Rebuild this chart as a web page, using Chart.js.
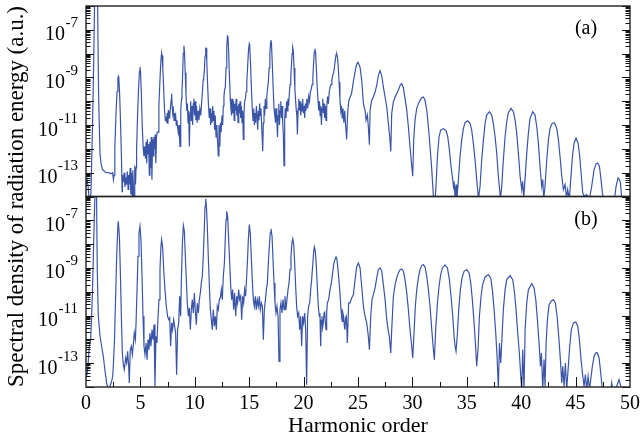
<!DOCTYPE html>
<html>
<head>
<meta charset="utf-8">
<script src="https://cdn.jsdelivr.net/npm/chart.js@4.4.1/dist/chart.umd.min.js"></script>
<style>
  html, body { margin: 0; padding: 0; background: #fff; }
</style>
</head>
<body>
<canvas id="chart" width="642" height="446"></canvas>
<script>
// spectra: [harmonic order, log10(spectral density)]
const spectrumA = [
  [0.00,-13.5],[0.10,-13.3],[0.20,-13.6],[0.30,-14.2],[0.45,-13.9],[0.60,-11.0],[0.72,-8.0],[0.80,-5.5],[0.90,-4.8],[1.00,-5.2],[1.07,-6.0],[1.15,-9.5],[1.22,-11.0],[1.29,-12.2],[1.38,-12.6],[1.50,-12.85],[1.70,-12.95],[1.90,-13.0],[2.10,-13.0],[2.30,-13.05],[2.45,-13.0],[2.52,-13.3],
  [2.58,-13.1],[2.65,-12.0],[2.75,-10.6],[2.85,-9.6],[2.93,-9.05],[2.97,-8.96],[3.02,-9.05],[3.10,-9.8],[3.18,-11.0],[3.26,-12.4],[3.32,-13.8],
  [3.35,-13.1],[3.42,-13.4],[3.50,-13.0],[3.58,-13.6],[3.65,-13.2],[3.72,-13.5],[3.80,-12.95],[3.87,-13.7],[3.93,-13.1],[4.00,-13.3],[4.06,-12.8],[4.12,-13.9],[4.18,-13.0],[4.25,-14.3],[4.30,-12.9],[4.36,-13.6],[4.42,-14.4],[4.48,-12.7],[4.55,-13.5],[4.60,-12.8],
  [4.65,-12.0],[4.74,-10.6],[4.83,-9.5],[4.91,-8.75],[4.96,-8.57],[5.01,-8.75],[5.08,-9.6],[5.16,-10.9],[5.25,-11.9],[5.32,-12.3],
  [5.40,-11.9],[5.46,-12.4],[5.52,-11.7],[5.58,-12.6],[5.64,-11.6],[5.70,-12.2],[5.76,-11.8],[5.82,-13.1],[5.88,-11.7],[5.93,-12.8],[6.00,-11.5],[6.06,-13.3],[6.12,-11.6],[6.18,-12.3],[6.24,-11.5],[6.30,-12.0],[6.36,-11.4],[6.42,-12.6],[6.48,-11.5],[6.55,-11.3],
  [6.62,-11.3],[6.70,-10.2],[6.78,-9.3],[6.86,-8.5],[6.92,-8.08],[6.95,-7.99],[6.99,-8.08],[7.06,-8.6],[7.14,-9.5],[7.22,-10.4],[7.30,-10.8],
  [7.35,-10.65],[7.41,-10.9],[7.47,-10.5],[7.53,-10.95],[7.57,-10.37],[7.63,-10.7],[7.68,-10.4],[7.72,-10.6],[7.78,-10.2],[7.84,-9.9],[7.87,-9.68],[7.92,-10.2],[7.97,-10.5],[8.03,-10.37],[8.09,-10.8],[8.14,-10.5],[8.18,-10.79],[8.24,-10.6],[8.30,-11.0],[8.36,-10.8],[8.42,-11.1],[8.48,-11.3],[8.55,-11.0],[8.60,-11.6],[8.64,-11.9],[8.69,-10.9],[8.73,-10.37],[8.78,-9.9],
  [8.82,-9.6],[8.88,-8.9],[8.94,-8.0],[9.00,-7.67],[9.05,-7.9],[9.12,-8.8],[9.19,-9.7],[9.26,-10.4],
  [9.32,-10.1],[9.38,-10.9],[9.43,-10.4],[9.50,-11.9],[9.56,-10.5],[9.62,-10.0],[9.68,-10.8],[9.74,-10.2],[9.80,-11.0],[9.86,-10.1],[9.92,-9.9],[9.98,-10.6],[10.04,-10.0],[10.10,-10.8],[10.16,-10.2],[10.22,-10.9],[10.30,-10.4],[10.38,-10.8],[10.46,-10.3],[10.55,-10.6],[10.62,-10.1],[10.70,-9.6],[10.77,-9.1],
  [10.82,-9.0],[10.88,-8.7],[10.94,-8.1],[11.00,-7.78],[11.04,-7.77],[11.10,-8.3],[11.17,-9.2],[11.25,-10.1],[11.33,-10.7],
  [11.40,-10.3],[11.46,-11.0],[11.52,-10.5],[11.58,-10.9],[11.64,-10.2],[11.70,-10.8],[11.76,-10.4],[11.82,-11.2],[11.88,-10.6],[11.95,-11.5],[12.02,-11.0],[12.08,-11.6],[12.16,-12.3],[12.22,-11.0],[12.30,-11.9],[12.36,-10.9],[12.42,-11.3],[12.50,-10.6],[12.56,-11.0],[12.62,-10.2],[12.68,-9.8],[12.74,-9.5],
  [12.80,-9.45],[12.87,-8.6],[12.94,-7.7],[13.00,-7.27],[13.05,-7.3],[13.11,-7.9],[13.18,-8.9],[13.26,-9.9],[13.32,-10.3],
  [13.38,-10.6],[13.44,-9.9],[13.50,-10.5],[13.56,-10.0],[13.62,-10.8],[13.68,-10.1],[13.74,-10.4],[13.80,-9.9],[13.86,-10.6],[13.92,-10.2],[13.98,-10.9],[14.04,-10.1],[14.10,-10.5],[14.16,-10.0],[14.22,-10.7],[14.28,-10.2],[14.34,-10.9],[14.40,-10.4],[14.46,-11.6],[14.52,-10.5],[14.58,-10.0],[14.65,-9.9],[14.72,-9.6],
  [14.78,-9.2],[14.86,-8.5],[14.93,-7.9],[15.00,-7.6],[15.05,-7.7],[15.12,-8.4],[15.20,-9.4],[15.28,-10.3],[15.35,-10.8],
  [15.42,-10.3],[15.48,-11.0],[15.54,-10.5],[15.60,-10.9],[15.66,-10.2],[15.72,-10.6],[15.78,-11.2],[15.84,-10.4],[15.90,-10.8],[15.96,-10.1],[16.02,-10.6],[16.08,-10.3],[16.14,-11.0],[16.20,-11.6],[16.24,-12.1],[16.30,-10.9],[16.36,-10.2],[16.42,-10.6],[16.48,-9.9],[16.55,-10.3],[16.62,-9.8],[16.70,-9.4],
  [16.76,-9.2],[16.83,-8.6],[16.90,-8.0],[16.96,-7.55],[17.00,-7.43],[17.05,-7.6],[17.12,-8.4],[17.20,-9.4],[17.28,-10.3],[17.35,-10.6],
  [17.42,-10.9],[17.48,-10.3],[17.54,-10.8],[17.60,-11.5],[17.66,-10.6],[17.72,-10.1],[17.78,-11.0],[17.84,-10.4],[17.90,-10.0],[17.96,-10.7],[18.02,-10.2],[18.08,-10.9],[18.14,-11.4],[18.20,-12.7],[18.26,-10.8],[18.32,-10.3],[18.38,-10.7],[18.44,-10.0],[18.50,-10.4],[18.56,-9.9],[18.62,-10.2],[18.70,-9.6],[18.76,-9.3],
  [18.82,-9.0],[18.88,-8.5],[18.94,-8.0],[19.00,-7.74],[19.05,-7.85],[19.12,-8.6],[19.20,-9.5],[19.27,-10.0],[19.33,-10.4],
  [19.38,-10.6],[19.43,-11.4],[19.50,-10.3],[19.56,-9.9],[19.62,-10.4],[19.68,-10.0],[19.74,-10.6],[19.80,-10.1],[19.86,-10.4],[19.92,-9.9],[19.98,-10.5],[20.04,-10.2],[20.10,-10.7],[20.16,-10.1],[20.22,-10.4],[20.30,-9.9],[20.38,-10.3],[20.46,-9.8],[20.54,-10.0],[20.62,-9.6],[20.70,-9.5],
  [20.78,-9.3],[20.85,-9.0],[20.92,-8.4],[20.98,-7.95],[21.04,-7.8],[21.10,-7.95],[21.17,-8.6],[21.25,-9.4],[21.33,-10.0],[21.40,-10.4],
  [21.46,-10.0],[21.52,-10.6],[21.58,-10.2],[21.64,-11.0],[21.70,-10.3],[21.76,-9.9],[21.82,-10.5],[21.88,-10.1],[21.94,-10.7],[22.00,-10.2],[22.06,-10.8],[22.12,-10.3],[22.20,-9.8],[22.28,-10.1],[22.36,-9.6],[22.44,-9.4],[22.52,-9.3],[22.60,-9.1],[22.68,-8.9],
  [22.76,-8.8],[22.84,-8.55],[22.92,-8.25],[22.98,-8.05],[23.04,-8.01],[23.10,-8.1],[23.18,-8.5],[23.26,-9.2],[23.34,-9.9],[23.42,-10.4],
  [23.48,-10.2],[23.55,-10.7],[23.62,-10.3],[23.70,-10.9],[23.78,-10.4],[23.86,-11.0],[23.96,-11.6],[24.04,-10.6],[24.12,-10.1],[24.20,-9.9],[24.30,-9.8],[24.40,-9.7],[24.50,-9.4],[24.60,-9.1],[24.70,-8.85],[24.80,-8.6],[24.90,-8.43],[25.00,-8.36],
  [25.19,-8.57],[25.34,-9.12],[25.50,-10.1],[25.56,-10.23],[25.65,-10.37],[25.74,-10.79],[25.86,-10.58],[25.95,-11.07],[26.05,-11.83],[26.11,-10.37],[26.26,-9.96],[26.41,-9.82],[26.57,-9.61],[26.72,-9.33],[26.87,-8.92],[27.03,-8.71],
  [27.18,-8.92],[27.33,-9.4],[27.49,-9.82],[27.64,-10.23],[27.79,-10.93],[27.92,-11.49],[28.01,-12.11],[28.10,-10.51],[28.25,-10.03],[28.41,-9.82],[28.56,-9.68],[28.71,-9.54],[28.87,-9.33],[29.02,-9.26],
  [29.17,-9.43],[29.30,-9.82],[29.48,-10.37],[29.63,-11.07],[29.78,-11.9],[29.94,-12.74],[30.03,-13.15],[30.12,-11.62],[30.24,-10.79],[30.40,-10.3],[30.55,-10.1],[30.70,-9.96],[30.86,-9.85],[31.01,-9.82],
  [31.16,-9.96],[31.32,-10.37],[31.47,-11.07],[31.62,-11.9],[31.78,-12.87],[31.93,-14.0],[32.02,-14.5],
  [32.17,-13.57],[32.30,-12.32],[32.45,-11.49],[32.60,-11.21],[32.85,-11.15],[33.09,-11.23],[33.25,-11.49],[33.40,-12.04],[33.55,-12.74],[33.71,-13.29],[33.77,-13.57],[33.83,-13.36],[33.92,-14.0],[34.01,-13.5],[34.07,-14.2],
  [34.23,-13.29],[34.38,-12.32],[34.53,-11.62],[34.69,-11.14],[34.84,-10.9],[35.08,-10.82],[35.30,-10.93],[35.45,-11.21],[35.60,-11.76],[35.76,-12.46],[35.91,-13.29],[36.07,-14.1],
  [36.22,-13.57],[36.37,-12.46],[36.53,-11.62],[36.68,-10.93],[36.83,-10.58],[37.08,-10.44],[37.29,-10.58],[37.44,-10.93],[37.60,-11.49],[37.75,-12.18],[37.90,-13.15],[37.99,-13.57],[38.09,-14.1],[38.21,-13.57],
  [38.36,-12.46],[38.52,-11.49],[38.67,-10.86],[38.82,-10.48],[39.07,-10.3],[39.28,-10.44],[39.44,-10.79],[39.59,-11.35],[39.74,-12.18],[39.90,-13.15],[40.05,-13.71],[40.14,-13.36],[40.23,-14.1],
  [40.35,-13.29],[40.51,-12.18],[40.66,-11.35],[40.81,-10.72],[41.06,-10.44],[41.27,-10.58],[41.43,-11.07],[41.58,-11.76],[41.73,-12.74],[41.89,-13.57],[41.98,-13.29],[42.07,-14.1],
  [42.19,-13.57],[42.35,-12.46],[42.50,-11.62],[42.65,-11.14],[42.84,-10.93],[43.05,-10.9],[43.27,-11.14],[43.42,-11.62],[43.57,-12.32],[43.73,-13.15],[43.88,-13.71],[44.03,-13.5],[44.18,-14.1],[44.27,-13.71],[44.43,-14.1],
  [44.55,-13.29],[44.71,-12.32],[44.86,-11.76],[45.04,-11.55],[45.23,-11.76],[45.38,-12.32],[45.53,-13.15],[45.66,-13.85],[45.78,-13.99],[46.02,-13.92],[46.27,-14.1],
  [46.48,-13.57],[46.70,-12.87],[46.88,-12.62],[47.04,-12.6],[47.19,-12.74],[47.34,-13.29],[47.46,-13.85],[47.55,-14.1],[47.80,-14.6],[48.30,-14.6],
  [48.60,-14.0],[48.72,-13.57],[48.90,-13.22],[49.03,-13.29],[49.12,-13.43],[49.24,-14.1],[49.40,-14.5],[50.00,-14.6]
];

const spectrumB = [
  [0.00,-13.62],[0.10,-13.45],[0.20,-13.0],[0.30,-12.3],[0.43,-12.0],[0.52,-11.0],[0.60,-9.9],[0.68,-8.4],[0.75,-7.1],[0.85,-5.5],[0.90,-5.2],[0.97,-6.0],[1.04,-9.2],[1.13,-11.0],[1.29,-11.87],[1.44,-12.3],[1.59,-12.71],[1.75,-13.34],[1.90,-13.83],[2.05,-14.11],[2.20,-13.97],[2.36,-13.76],[2.45,-13.55],[2.51,-13.13],
  [2.62,-12.0],[2.74,-9.91],[2.83,-8.37],[2.93,-7.25],[2.97,-7.04],[3.07,-7.67],[3.16,-9.21],[3.25,-11.03],[3.34,-12.57],[3.43,-13.06],
  [3.52,-13.27],[3.65,-12.78],[3.74,-12.99],[3.83,-12.5],[3.92,-13.13],[3.98,-13.83],[4.07,-12.43],[4.17,-12.29],[4.26,-12.64],[4.35,-12.22],[4.44,-11.73],[4.54,-12.01],
  [4.60,-11.31],[4.69,-9.91],[4.78,-8.51],[4.87,-7.53],[4.96,-7.25],[5.05,-7.81],[5.15,-9.35],[5.24,-11.03],[5.33,-12.29],[5.42,-12.64],
  [5.52,-12.15],[5.61,-12.85],[5.70,-12.01],[5.79,-12.43],[5.88,-11.73],[5.97,-12.29],[6.07,-11.59],[6.16,-12.01],[6.25,-11.38],[6.34,-13.97],[6.43,-11.87],[6.52,-12.15],[6.62,-11.03],
  [6.71,-10.33],[6.80,-9.07],[6.89,-8.09],[6.95,-7.81],[7.05,-8.16],[7.14,-9.07],[7.26,-9.91],[7.38,-10.61],[7.50,-11.03],
  [7.60,-11.17],[7.69,-11.1],[7.78,-12.29],[7.87,-11.31],[7.96,-11.59],[8.06,-11.17],[8.15,-11.45],[8.24,-11.73],[8.33,-13.48],[8.42,-11.59],[8.52,-11.31],[8.61,-10.19],[8.70,-11.03],
  [8.76,-9.63],[8.86,-7.95],[8.95,-7.22],[9.04,-7.46],[9.13,-8.51],[9.22,-9.49],[9.31,-10.47],[9.41,-11.03],
  [9.50,-10.68],[9.59,-11.59],[9.68,-10.75],[9.77,-10.33],[9.86,-10.89],[9.96,-10.05],[10.05,-10.82],[10.14,-11.38],[10.23,-10.47],[10.33,-10.89],[10.42,-10.33],[10.51,-10.05],[10.60,-9.63],[10.69,-9.35],
  [10.78,-8.51],[10.88,-7.25],[10.94,-6.41],[11.00,-6.10],[11.06,-6.34],[11.15,-7.25],[11.24,-8.51],[11.34,-9.77],[11.43,-10.75],[11.52,-11.17],
  [11.61,-11.59],[11.70,-10.75],[11.80,-11.45],[11.89,-11.03],[11.98,-11.59],[12.07,-10.61],[12.16,-10.75],[12.25,-10.33],[12.35,-10.26],[12.44,-9.91],[12.53,-10.33],[12.62,-9.35],
  [12.72,-8.79],[12.81,-7.67],[12.87,-6.97],[12.93,-6.62],[13.02,-6.83],[13.11,-7.81],[13.21,-8.79],[13.30,-9.77],[13.39,-10.33],
  [13.48,-9.91],[13.57,-10.75],[13.66,-10.05],[13.76,-11.03],[13.85,-10.19],[13.94,-10.47],[14.03,-9.91],[14.12,-10.33],[14.22,-10.19],[14.31,-11.17],[14.40,-10.19],[14.49,-10.47],[14.58,-9.91],[14.67,-10.19],[14.77,-9.35],
  [14.86,-8.51],[14.92,-7.81],[15.01,-7.18],[15.10,-7.53],[15.19,-8.51],[15.28,-9.49],[15.38,-10.33],[15.47,-10.61],
  [15.56,-10.19],[15.65,-10.75],[15.74,-10.33],[15.84,-10.61],[15.93,-10.19],[16.02,-10.75],[16.12,-10.47],[16.21,-10.61],[16.30,-12.01],[16.39,-10.75],[16.49,-10.33],[16.58,-9.91],[16.67,-9.63],[16.76,-8.79],
  [16.85,-8.09],[16.94,-7.53],[17.00,-7.36],[17.10,-7.67],[17.19,-8.65],[17.28,-9.63],[17.37,-10.47],[17.46,-10.89],
  [17.55,-10.61],[17.65,-11.03],[17.74,-12.92],[17.83,-10.75],[17.92,-10.47],[18.01,-10.89],[18.11,-10.33],[18.20,-10.75],[18.29,-10.19],[18.38,-10.75],[18.47,-10.33],[18.57,-9.91],[18.66,-9.63],[18.75,-9.07],
  [18.84,-8.51],[18.93,-7.95],[19.00,-7.78],[19.09,-8.02],[19.18,-8.79],[19.27,-9.77],[19.36,-10.61],[19.45,-11.03],
  [19.55,-10.89],[19.64,-11.59],[19.73,-11.03],[19.82,-12.29],[19.91,-11.03],[20.00,-11.31],[20.10,-10.89],[20.19,-11.59],[20.28,-13.90],[20.37,-11.03],[20.46,-10.61],[20.56,-10.47],[20.65,-9.91],[20.74,-9.49],
  [20.83,-8.93],[20.93,-8.30],[20.99,-8.12],[21.08,-8.30],[21.17,-8.93],[21.26,-9.77],[21.35,-10.61],[21.45,-11.03],
  [21.50,-10.89],[21.57,-12.29],[21.63,-11.2],[21.69,-11.03],[21.75,-11.5],[21.81,-11.31],[21.88,-10.9],[21.94,-10.82],[22.00,-11.3],[22.06,-11.59],[22.12,-10.9],[22.18,-10.47],[22.30,-10.33],[22.43,-9.91],[22.55,-9.63],[22.67,-9.21],[22.79,-8.79],
  [22.88,-8.65],[22.98,-8.54],[23.07,-8.65],[23.19,-9.21],[23.32,-9.91],[23.44,-10.75],[23.50,-11.1],[23.56,-11.24],[23.62,-10.9],[23.68,-11.03],[23.74,-11.4],[23.80,-11.59],[23.86,-11.1],[23.93,-11.03],[24.02,-12.15],[24.14,-10.47],[24.27,-10.47],[24.42,-10.26],[24.58,-10.12],[24.73,-9.49],[24.88,-8.96],[25.03,-8.79],
  [25.19,-9.0],[25.34,-9.77],[25.50,-10.61],[25.65,-11.03],[25.80,-11.31],[25.95,-11.87],[26.05,-12.43],[26.17,-11.03],[26.29,-10.33],[26.41,-10.12],[26.57,-9.84],[26.72,-9.42],[26.87,-9.07],[27.03,-9.0],
  [27.18,-9.14],[27.33,-9.70],[27.49,-10.33],[27.64,-11.17],[27.79,-11.66],[27.88,-11.87],[28.01,-12.57],[28.10,-11.59],[28.25,-10.19],[28.41,-9.70],[28.56,-9.42],[28.71,-9.21],[28.87,-9.07],[29.02,-9.04],
  [29.17,-9.14],[29.32,-9.49],[29.48,-10.05],[29.63,-10.75],[29.78,-11.59],[29.91,-12.15],[30.03,-12.78],[30.15,-11.73],[30.27,-10.61],[30.40,-9.91],[30.55,-9.42],[30.70,-9.07],[30.86,-8.90],[31.01,-8.86],
  [31.16,-8.96],[31.32,-9.35],[31.47,-9.91],[31.62,-10.61],[31.78,-11.59],[31.93,-12.43],[32.02,-12.85],[32.14,-11.59],[32.30,-10.47],[32.45,-9.77],[32.60,-9.28],[32.76,-9.0],[33.00,-8.87],
  [33.22,-9.0],[33.40,-9.49],[33.55,-10.19],[33.71,-11.03],[33.83,-11.87],[33.92,-12.29],[34.01,-12.50],[34.14,-11.73],[34.26,-10.75],[34.41,-9.91],[34.56,-9.42],[34.75,-9.14],[34.99,-9.07],
  [35.21,-9.21],[35.36,-9.63],[35.51,-10.33],[35.67,-11.31],[35.79,-12.15],[35.91,-13.13],[36.03,-12.43],[36.16,-11.03],[36.31,-10.19],[36.46,-9.70],[36.68,-9.38],[36.98,-9.28],
  [37.20,-9.42],[37.35,-9.91],[37.51,-10.75],[37.66,-11.73],[37.78,-12.71],[37.90,-14.11],[38.00,-12.15],[38.12,-12.99],[38.24,-11.87],[38.36,-10.75],[38.52,-9.91],[38.67,-9.49],[38.98,-9.32],
  [39.22,-9.49],[39.37,-9.98],[39.53,-10.75],[39.68,-11.73],[39.83,-12.57],[39.96,-13.55],[40.05,-14.11],[40.14,-12.43],[40.26,-14.11],[40.36,-11.59],[40.51,-10.47],[40.66,-9.91],[40.97,-9.66],
  [41.18,-9.84],[41.34,-10.33],[41.49,-11.17],[41.64,-12.15],[41.77,-13.13],[41.86,-12.57],[41.98,-14.11],[42.10,-12.85],[42.19,-13.97],[42.29,-12.15],[42.41,-11.17],[42.56,-10.54],[42.75,-10.40],[42.96,-10.33],
  [43.14,-10.47],[43.30,-11.03],[43.45,-11.87],[43.60,-12.85],[43.73,-13.83],[43.82,-13.13],[43.94,-13.97],[44.06,-12.99],[44.18,-14.11],[44.31,-13.27],[44.46,-12.29],[44.61,-11.59],[44.80,-11.31],[45.01,-11.27],
  [45.20,-11.45],[45.35,-12.01],[45.50,-12.85],[45.66,-13.55],[45.78,-13.97],[45.90,-13.48],[46.02,-14.11],[46.15,-13.55],[46.27,-14.11],[46.39,-13.69],[46.54,-13.13],[46.70,-12.71],[46.85,-12.57],[47.00,-12.57],
  [47.16,-12.78],[47.31,-13.41],[47.43,-13.97],[47.55,-14.39],[48.00,-14.5],[48.20,-14.3],[48.32,-13.83],[48.41,-14.11],[48.54,-14.25],[48.78,-13.97],[48.99,-13.69],[49.15,-13.97],[49.27,-14.39],[49.60,-14.5],[50.00,-14.5]
];

const yLabelExponents = [-7, -9, -11, -13];
const xTickMarks = [2.5, 5, 7.5, 10, 12.5, 15, 17.5, 20, 22.5, 25, 27.5, 30, 32.5, 35, 37.5, 40, 42.5, 45, 47.5];
const panelLabels = { ya: '(a)', yb: '(b)' };

const lineColor = '#3a55a8';
const serif = '"Liberation Serif", "Times New Roman", serif';

const toPoints = arr => arr.map(p => ({ x: p[0], y: Math.pow(10, p[1]) }));

// frames, inward ticks, 10^n labels and panel letters
const spectrumPlugin = {
    id: 'spectrumPanels',
    beforeDatasetDraw(chart, args) {
        const ctx = chart.ctx, xs = chart.scales.x, ys = chart.scales[args.meta.yAxisID];
        ctx.save();
        ctx.beginPath();
        ctx.rect(xs.left, ys.top, xs.right - xs.left, ys.bottom - ys.top);
        ctx.clip();
    },
    afterDatasetDraw(chart) {
        chart.ctx.restore();
    },
    afterDraw(chart) {
        const ctx = chart.ctx, xs = chart.scales.x;
        ctx.save();
        ['ya', 'yb'].forEach(id => {
            const s = chart.scales[id];

            // log ticks on both sides
            ctx.strokeStyle = '#111';
            ctx.lineWidth = 1;
            ctx.beginPath();
            for (let e = -14; e <= -6; e++) {
                for (let k = 1; k <= 9; k++) {
                    if (e === -6 && k > 1) break;
                    const y = Math.round(s.getPixelForValue(k * Math.pow(10, e))) + 0.5;
                    const len = k === 1 ? 8 : 4.5;
                    ctx.moveTo(xs.left, y); ctx.lineTo(xs.left + len, y);
                    ctx.moveTo(xs.right, y); ctx.lineTo(xs.right - len, y);
                }
            }
            ctx.stroke();

            ctx.lineWidth = 1.4;
            ctx.strokeStyle = '#222';
            ctx.strokeRect(xs.left, s.top, xs.right - xs.left, s.bottom - s.top);

            // labels 10^n
            ctx.fillStyle = '#000';
            ctx.textAlign = 'right';
            ctx.textBaseline = 'alphabetic';
            yLabelExponents.forEach(e => {
                const y = s.getPixelForValue(Math.pow(10, e));
                const sup = String(e);
                ctx.font = '15px ' + serif;
                const w = ctx.measureText(sup).width;
                ctx.fillText(sup, 78, y - 2.5);
                ctx.font = '20px ' + serif;
                ctx.fillText('10', 78 - w - 0.5, y + 10.5);
            });

            ctx.font = '20px ' + serif;
            ctx.textAlign = 'center';
            ctx.fillText(panelLabels[id], 586, s.top + 28);
        });

        // x ticks on the bottom panel
        const yb = chart.scales.yb;
        ctx.strokeStyle = '#111';
        ctx.lineWidth = 1;
        ctx.beginPath();
        xTickMarks.forEach(v => {
            const x = Math.round(xs.getPixelForValue(v)) + 0.5;
            const len = v % 5 === 0 ? 10 : 5;
            ctx.moveTo(x, yb.bottom); ctx.lineTo(x, yb.bottom - len);
        });
        ctx.stroke();
        ctx.restore();
    }
};

const logAxis = {
    type: 'logarithmic',
    position: 'left',
    stack: 'spectra',
    stackWeight: 1,
    min: 1e-14,
    max: 1e-6,
    grid: { display: false },
    border: { display: false },
    ticks: { display: false },
    afterFit: s => { s.width = 55.4; }
};

new Chart(document.getElementById('chart'), {
    type: 'line',
    data: {
        datasets: [
            { label: '(a)', data: toPoints(spectrumA), xAxisID: 'x', yAxisID: 'ya',
              borderColor: lineColor, borderWidth: 1.2, pointRadius: 0, tension: 0, fill: false },
            { label: '(b)', data: toPoints(spectrumB), xAxisID: 'x', yAxisID: 'yb',
              borderColor: lineColor, borderWidth: 1.2, pointRadius: 0, tension: 0, fill: false }
        ]
    },
    options: {
        responsive: false,
        animation: false,
        events: [],
        layout: { padding: { top: 6, right: 12, bottom: 0, left: 3 } },
        plugins: {
            legend: { display: false },
            tooltip: { enabled: false },
            title: {
                display: true,
                text: 'Spectral density of radiation energy (a.u.)',
                position: 'left',
                fullSize: false,
                color: '#000',
                font: { family: serif, size: 23, weight: 'normal' },
                padding: { top: 0, bottom: 0 }
            }
        },
        scales: {
            x: {
                type: 'linear',
                position: 'bottom',
                min: 0,
                max: 50,
                grid: { display: false },
                border: { display: false },
                ticks: { stepSize: 5, color: '#000', font: { family: serif, size: 20 }, padding: -3, maxRotation: 0, autoSkip: false },
                title: { display: true, text: 'Harmonic order', color: '#000', font: { family: serif, size: 22 }, padding: { top: 0, bottom: 7 } },
                afterFit: s => { s.height = 59; }
            },
            // left boxes are laid out in reverse order: the last one sits on top
            yb: { ...logAxis },
            ya: { ...logAxis }
        }
    },
    plugins: [spectrumPlugin]
});
</script>
</body>
</html>
